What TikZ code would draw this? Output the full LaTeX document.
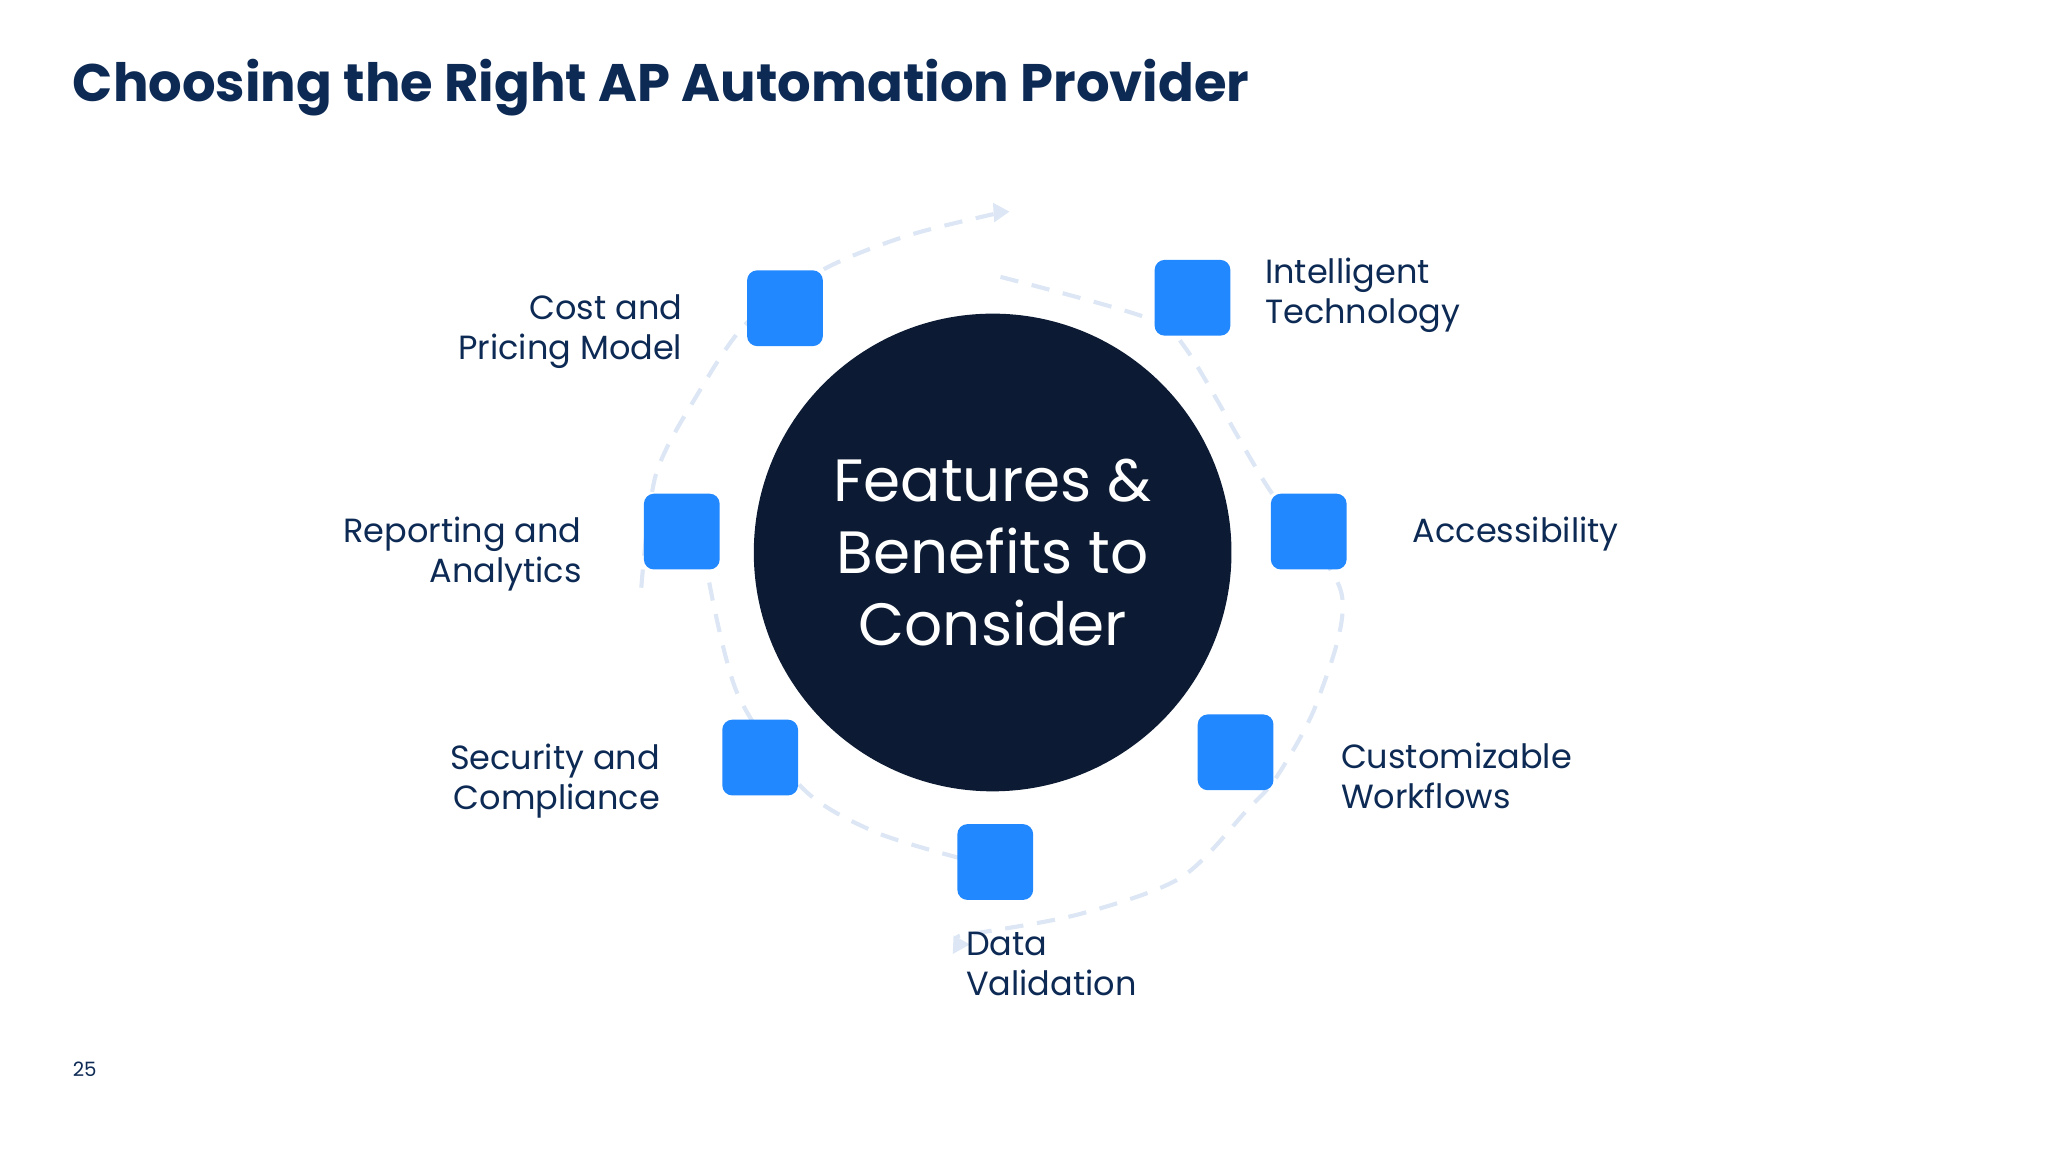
\documentclass[tikz,border=0pt]{standalone}
\usepackage{fontspec}
\setmainfont{Poppins}
\usetikzlibrary{arrows.meta}
\definecolor{navy}{HTML}{0C1B33}
\definecolor{sqblue}{HTML}{2188FF}
\definecolor{dashc}{HTML}{DCE6F4}
\definecolor{txt}{HTML}{0D2A55}
\tikzset{
  feature/.style={rectangle, fill=sqblue, rounded corners=2.2pt, minimum size=16.5pt, inner sep=0pt},
  lbl/.style={text=txt, font=\fontsize{7.3}{8.8}\selectfont, inner sep=0pt},
  ring/.style={dashc, line width=0.9pt, dash pattern=on 4pt off 3pt}
}
\begin{document}
\begin{tikzpicture}[x=0.01cm,y=-0.01cm]
  \useasboundingbox (0,0) rectangle (1568,882);
  % dashed rings
  \draw[ring, -{Triangle[length=3.5pt,width=4pt]}] plot[smooth] coordinates
    {(766,212) (877,243) (908,267) (970,372) (1027,454) (1009,536) (978,594) (955,620) (904,672) (826,700) (744,715) (730,716)};
  \draw[ring, -{Triangle[length=3.5pt,width=4pt]}] plot[smooth] coordinates
    {(491,450) (502,364) (534,302) (572,247) (631,206) (693,181) (756,165) (773,162)};
  \draw[ring] plot[smooth] coordinates
    {(543,446) (565,532) (615,604) (670,637) (735,657)};
  % centre
  \node (hub) [circle, fill=navy, minimum size=104pt, inner sep=0pt, align=center,
    text=white, font=\fontsize{13}{15.6}\selectfont] at (760,423) {Features \&\\Benefits to\\Consider};
  % squares
  \node (cost) [feature] at (601,236) {};
  \node (intel) [feature] at (913,228) {};
  \node (access) [feature] at (1002,407) {};
  \node (custom) [feature] at (946,576) {};
  \node (data) [feature] at (762,660) {};
  \node (secur) [feature] at (582,580) {};
  \node (report) [feature] at (522,407) {};
  % labels
  \node (costl) [lbl, anchor=east, align=right] at (523,254) {Cost and\\Pricing Model};
  \node (intell) [lbl, anchor=west, align=left] at (968,226) {Intelligent\\Technology};
  \node (accessl) [lbl, anchor=west] at (1081,409) {Accessibility};
  \node (customl) [lbl, anchor=west, align=left] at (1026,594) {Customizable\\Workflows};
  \node (datal) [lbl, anchor=west, align=left] at (739,738) {Data\\Validation};
  \node (securl) [lbl, anchor=east, align=right] at (506,598) {Security and\\Compliance};
  \node (reportl) [lbl, anchor=east, align=right] at (446,424) {Reporting and\\Analytics};
  % title and page
  \node (title) [anchor=west, text=txt, inner sep=0pt, font=\fontsize{11.5}{13}\selectfont\bfseries] at (55,67) {Choosing the Right AP Automation Provider};
  \node (page) [anchor=west, text=txt, inner sep=0pt, font=\fontsize{4.3}{5}\selectfont] at (55,819) {25};
\end{tikzpicture}
\end{document}
